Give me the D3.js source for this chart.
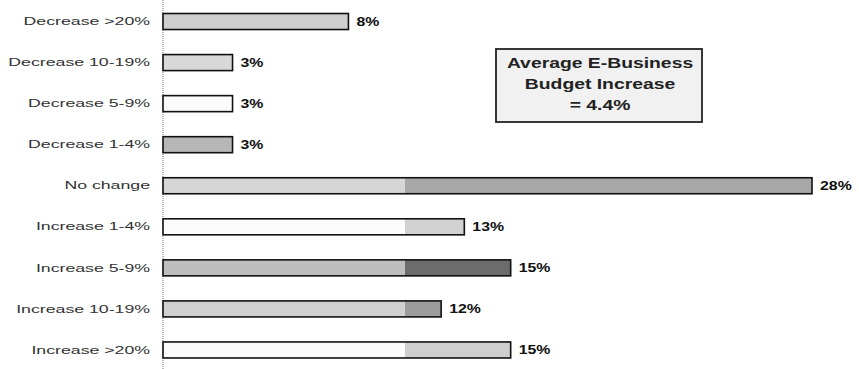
<!DOCTYPE html>
<html>
<head>
<meta charset="utf-8">
<script src="https://cdn.jsdelivr.net/npm/d3@7"></script>
<style>
  html, body { margin: 0; padding: 0; background: #fff; }
  svg { display: block; }
</style>
</head>
<body>
<svg id="chart" width="859" height="369"></svg>
<script>
// Budget change categories, top to bottom
const categories = [
  "Decrease >20%",
  "Decrease 10-19%",
  "Decrease 5-9%",
  "Decrease 1-4%",
  "No change",
  "Increase 1-4%",
  "Increase 5-9%",
  "Increase 10-19%",
  "Increase >20%"
];

// Share of respondents (%)
const shares = [8, 3, 3, 3, 28, 13, 15, 12, 15];

// Callout text
const calloutLines = ["Average E-Business", "Budget Increase", "= 4.4%"];

// Bar fills: [left tone, right tone]
const barTones = [
  ["#cfcfcf", "#cfcfcf"],
  ["#d8d8d8", "#d8d8d8"],
  ["#fbfbfb", "#fbfbfb"],
  ["#b6b6b6", "#b6b6b6"],
  ["#d6d6d6", "#a8a8a8"],
  ["#fcfcfc", "#d2d2d2"],
  ["#bebebe", "#6c6c6c"],
  ["#d0d0d0", "#9c9c9c"],
  ["#fbfbfb", "#cecece"]
];

const svg = d3.select("#chart");
const x0 = 163;
const toneSplit = 405;   // where the darker tone begins, px
const labelStretch = 1.54;
const valueStretch = 1.27;

const x = d3.scaleLinear().domain([0, 28]).range([x0, 812]);
const y = d3.scaleBand().domain(categories).range([1, 370.5])
  .paddingInner(0.61).paddingOuter(0.305);

// Two-tone gradients per bar
const defs = svg.append("defs");
barTones.forEach((t, i) => {
  const g = defs.append("linearGradient")
    .attr("id", "tone" + i)
    .attr("gradientUnits", "userSpaceOnUse")
    .attr("x1", x0).attr("x2", 812).attr("y1", 0).attr("y2", 0);
  const off = (toneSplit - x0) / (812 - x0);
  g.append("stop").attr("offset", off).attr("stop-color", t[0]);
  g.append("stop").attr("offset", off).attr("stop-color", t[1]);
});

// Dotted baseline
svg.append("line")
  .attr("x1", x0).attr("x2", x0)
  .attr("y1", 0).attr("y2", 369)
  .attr("stroke", "#777")
  .attr("stroke-width", 1)
  .attr("stroke-dasharray", "1,1");

// Category axis
const axis = svg.append("g")
  .attr("transform", `translate(${x0},0)`)
  .call(d3.axisLeft(y).tickSize(0).tickPadding(13));
axis.select(".domain").remove();
axis.selectAll("text")
  .attr("x", -13 / labelStretch)
  .attr("transform", `scale(${labelStretch},1)`)
  .attr("font-family", "'Liberation Sans', Arial, sans-serif")
  .attr("font-size", "11.5px")
  .attr("fill", "#333");

// Bars
svg.append("g").selectAll("rect")
  .data(shares)
  .join("rect")
  .attr("x", x(0))
  .attr("y", (d, i) => y(categories[i]))
  .attr("width", d => x(d) - x(0))
  .attr("height", y.bandwidth())
  .attr("fill", (d, i) => `url(#tone${i})`)
  .attr("stroke", "#111")
  .attr("stroke-width", 1.6);

// Value labels
svg.append("g").selectAll("text")
  .data(shares)
  .join("text")
  .attr("transform", (d, i) =>
    `translate(${x(d) + 8},${y(categories[i]) + y.bandwidth() / 2}) scale(${valueStretch},1)`)
  .attr("dy", "0.36em")
  .attr("font-family", "'Liberation Sans', Arial, sans-serif")
  .attr("font-size", "12.5px")
  .attr("font-weight", "bold")
  .attr("fill", "#111")
  .text(d => d + "%");

// Callout box
const box = svg.append("g");
box.append("rect")
  .attr("x", 496).attr("y", 49)
  .attr("width", 206).attr("height", 73)
  .attr("fill", "#f1f1f1")
  .attr("stroke", "#222")
  .attr("stroke-width", 1.8);
box.selectAll("text")
  .data(calloutLines)
  .join("text")
  .attr("transform", (d, i) => `translate(600,${67.5 + i * 21}) scale(1.29,1)`)
  .attr("text-anchor", "middle")
  .attr("font-family", "'Liberation Sans', Arial, sans-serif")
  .attr("font-size", "15px")
  .attr("font-weight", "bold")
  .attr("fill", "#222")
  .text(d => d);
</script>
</body>
</html>
